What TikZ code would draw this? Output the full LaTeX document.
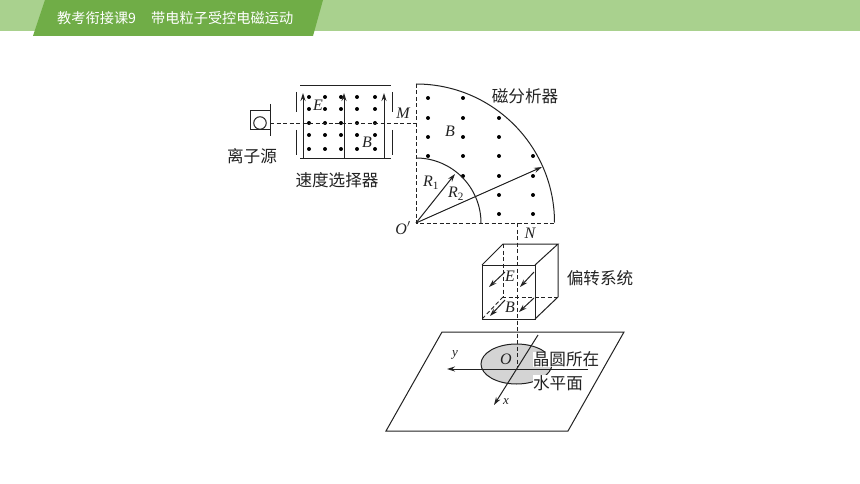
\documentclass[tikz,border=0pt]{standalone}
\usepackage{fontspec}
\setmainfont{Liberation Serif}
\newfontfamily\cjk{Noto Sans CJK SC}
\usetikzlibrary{arrows.meta}
\definecolor{hlight}{HTML}{A9D18E}
\definecolor{hdark}{HTML}{70AD47}
\definecolor{ink}{HTML}{222222}
\definecolor{disc}{HTML}{D4D4D4}
\tikzset{
  ln/.style={draw=ink,line width=1pt},
  dsh/.style={draw=ink,line width=0.85pt,dash pattern=on 4pt off 2.5pt},
  arr/.style={ln,-{Stealth[length=8pt,width=5pt]}},
  zh/.style={font=\cjk\fontsize{16.6}{17}\selectfont,text=ink,inner sep=0pt},
  lab/.style={font=\itshape\fontsize{16}{16}\selectfont,text=ink,inner sep=0pt},
  head/.style={font=\cjk\fontsize{14.2}{15}\selectfont,text=white,inner sep=0pt,anchor=west},
  dotm/.style={fill=black,circle,inner sep=0pt,minimum size=4pt}
}
\begin{document}
\begin{tikzpicture}[x=1pt,y=-1pt]
\useasboundingbox (0,0) rectangle (860,484);
\fill[white] (0,0) rectangle (860,484);
% header
\fill[hlight] (0,0) rectangle (860,31);
\fill[hdark] (45,0) -- (323,0) -- (313,36) -- (33,36) -- cycle;
\node[head] (htitle) at (57,18.5) {教考衔接课9};
\node[head] (hsub) at (151,18.5) {带电粒子受控电磁运动};
% ion source
\draw[ln] (270,111) -- (250,111) -- (250,130) -- (270,130);
\draw[ln] (270,104) -- (270,136);
\node[draw=ink,line width=1pt,circle,minimum size=12.5pt,inner sep=0pt] (src) at (260,123) {};
\node[zh] (srclab) at (252,156) {离子源};
% velocity selector
\foreach \yy in {97,109,123,135,149} \foreach \xx in {309,325,341,357,375}
  \node[dotm] at (\xx,\yy) {};
\draw[ln] (300,85.5) -- (391,85.5);
\draw[ln] (300,159) -- (391,159);
\foreach \xx in {303,344,384} \draw[arr] (\xx,159) -- (\xx,93);
\foreach \xx in {296,392} {\draw[ln] (\xx,92) -- (\xx,112); \draw[ln] (\xx,130) -- (\xx,155);}
\node[lab] (E1) at (318,105) {E};
\node[lab] (B1) at (367,142) {B};
\node[lab] (M) at (403,113) {M};
\node[zh] (vlab) at (337,180) {速度选择器};
\coordinate (srcr) at (270,123);
\coordinate (Mp) at (416,123);
\draw[dsh] (srcr) -- (Mp);
% analyzer
\coordinate (Op) at (416,223);
\coordinate (outerT) at (416,84);
\coordinate (outerR) at (554,223);
\coordinate (innerT) at (416,158);
\coordinate (innerR) at (481,223);
\foreach \p in {428/98,428/118,428/137,428/156,
  463/98,463/118,463/137,463/156,463/176,
  499/118,499/137,499/156,499/176,499/195,499/214,
  533/156,533/176,533/195,533/214}
  \foreach \xx/\yy in \p \node[dotm] at (\xx,\yy) {};
\draw[dsh] (outerT) -- (Op) -- (outerR);
\draw[ln] (outerT) arc[start angle=-90,end angle=0,radius=138.5];
\draw[ln] (innerT) arc[start angle=-90,end angle=0,radius=65];
\coordinate (R1e) at (455,174);
\coordinate (R2e) at (542,167);
\draw[arr] (Op) -- (R1e);
\draw[arr] (Op) -- (R2e);
\node[lab] (R1) at (431,183) {R\textsubscript{\upshape 1}};
\node[lab] (R2) at (456,194) {R\textsubscript{\upshape 2}};
\node[lab] (OpL) at (403,228) {O$'$};
\node[lab] (B2) at (450,131) {B};
\node[lab] (N) at (530,233) {N};
\node[zh] (alab) at (525,96) {磁分析器};
% plane
\draw[ln] (442,332) -- (624,332) -- (568,431) -- (386,431) -- cycle;
\draw[ln,fill=disc] (516.5,364) ellipse[x radius=35.5,y radius=20];
\node[zh,fill=white] (w1) at (566,359.5) {晶圆所在};
\node[zh,fill=white] (w2) at (558,383) {水平面};
% central dashed
\coordinate (Nt) at (517,223);
\coordinate (Nb) at (517,367);
\draw[dsh] (Nt) -- (Nb);
% cube
\draw[dsh] (503,244) -- (503,297) -- (558,297);
\draw[dsh] (503,297) -- (482,319);
\draw[ln] (482,265) rectangle (535,319);
\draw[ln] (482,265) -- (503,244) -- (558,244) -- (535,265);
\draw[ln] (558,244) -- (558,297) -- (535,319);
\draw[arr] (505,272) -- (489,287);
\draw[arr] (534,272) -- (520,287);
\draw[arr] (505,300) -- (490,316);
\draw[arr] (534,298) -- (519,312);
\node[lab] (E2) at (510,276) {E};
\node[lab] (B3) at (510,307) {B};
\node[zh] (clab) at (600,278) {偏转系统};
% axes
\draw[arr] (588,369) -- (447,369);
\draw[arr] (538,335) -- (494,405);
\node[lab,font=\itshape\fontsize{13}{13}\selectfont] (yl) at (455,355) {y};
\node[lab,font=\itshape\fontsize{13}{13}\selectfont] (xl) at (506,402) {x};
\node[lab] (O) at (506,359) {O};
\end{tikzpicture}
\end{document}
